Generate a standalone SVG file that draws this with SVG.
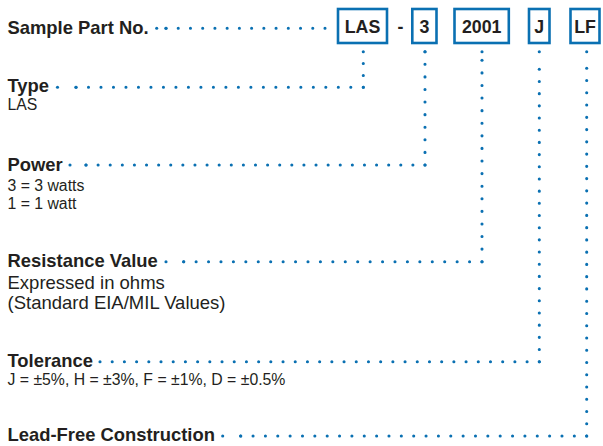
<svg xmlns="http://www.w3.org/2000/svg" width="603" height="446" viewBox="0 0 603 446">
<style>
  .bg{fill:#ffffff}
  .h{font-family:"Liberation Sans",Arial,sans-serif;font-weight:bold;font-size:18.4px;fill:#231f20}
  .s{font-family:"Liberation Sans",Arial,sans-serif;font-size:15.8px;fill:#231f20}
  .m{font-family:"Liberation Sans",Arial,sans-serif;font-size:18.5px;fill:#231f20}
  .bt{font-family:"Liberation Sans",Arial,sans-serif;font-weight:bold;font-size:17.8px;fill:#231f20;text-anchor:middle}
  .box{fill:#ffffff;stroke:#0a70b2;stroke-width:2.6}
  .dots{fill:none;stroke:#0a70b2;stroke-width:3.1;stroke-linecap:round;stroke-dasharray:0 1}
  .dot{fill:#0a70b2}
</style>
<rect class="bg" x="0" y="0" width="603" height="446"/>

<g id="connectors">
  <!-- Sample Part No. -->
  <path class="dots" d="M325 28.3 H166" pathLength="13"/>
  <circle class="dot" cx="166" cy="28.3" r="1.55"/>
  <circle class="dot" cx="156.7" cy="28.3" r="1.55"/>
  <!-- Type -->
  <path class="dots" d="M363.3 87.3 H76" pathLength="23"/>
  <circle class="dot" cx="76" cy="87.3" r="1.55"/>
  <circle class="dot" cx="57.5" cy="87.3" r="1.55"/>
  <path class="dots" d="M363.3 87.3 V51.7" pathLength="3"/>
  <circle class="dot" cx="363.3" cy="51.7" r="1.55"/>
  <!-- Power -->
  <path class="dots" d="M425 165 H86" pathLength="28"/>
  <circle class="dot" cx="86" cy="165" r="1.55"/>
  <circle class="dot" cx="70" cy="165" r="1.55"/>
  <path class="dots" d="M425 165 V51.7" pathLength="9"/>
  <circle class="dot" cx="425" cy="51.7" r="1.55"/>
  <!-- Resistance -->
  <path class="dots" d="M482 261.7 H183.7" pathLength="24"/>
  <circle class="dot" cx="183.7" cy="261.7" r="1.55"/>
  <circle class="dot" cx="166" cy="261.7" r="1.55"/>
  <path class="dots" d="M482 261.7 V60.3" pathLength="16"/>
  <circle class="dot" cx="482" cy="60.3" r="1.55"/>
  <circle class="dot" cx="482" cy="51.7" r="1.55"/>
  <!-- Tolerance -->
  <path class="dots" d="M539.3 361.7 H100" pathLength="36"/>
  <circle class="dot" cx="100" cy="361.7" r="1.55"/>
  <path class="dots" d="M539.3 361.7 V69.3" pathLength="24"/>
  <circle class="dot" cx="539.3" cy="69.3" r="1.55"/>
  <circle class="dot" cx="539.3" cy="51.7" r="1.55"/>
  <!-- Lead-Free -->
  <path class="dots" d="M586.7 436 H240.7" pathLength="28"/>
  <circle class="dot" cx="240.7" cy="436" r="1.55"/>
  <circle class="dot" cx="222.7" cy="436" r="1.55"/>
  <path class="dots" d="M586.7 436 V68.3" pathLength="30"/>
  <circle class="dot" cx="586.7" cy="68.3" r="1.55"/>
  <circle class="dot" cx="586.7" cy="51.7" r="1.55"/>
</g>

<g id="title"><text class="h" x="7.5" y="33.5">Sample Part No.</text></g>

<g id="box-las"><rect class="box" x="338" y="9" width="49" height="34"/><text class="bt" x="362.5" y="33">LAS</text></g>
<g id="dash"><text class="bt" x="400.5" y="33">-</text></g>
<g id="box-3"><rect class="box" x="412.3" y="9" width="24.2" height="34"/><text class="bt" x="424.4" y="33">3</text></g>
<g id="box-2001"><rect class="box" x="454.5" y="9" width="54.3" height="34"/><text class="bt" x="481.7" y="33">2001</text></g>
<g id="box-j"><rect class="box" x="529" y="9" width="20.5" height="34"/><text class="bt" x="539.3" y="33">J</text></g>
<g id="box-lf"><rect class="box" x="570.5" y="9" width="29" height="34"/><text class="bt" x="585" y="33">LF</text></g>

<g id="type">
  <text class="h" x="7.5" y="92">Type</text>
  <text class="s" x="7.5" y="110">LAS</text>
</g>
<g id="power">
  <text class="h" x="7.5" y="170.5">Power</text>
  <text class="s" x="7.5" y="190.5">3 = 3 watts</text>
  <text class="s" x="7.5" y="208.5">1 = 1 watt</text>
</g>
<g id="resistance">
  <text class="h" x="7.5" y="266.5">Resistance Value</text>
  <text class="m" x="7.5" y="289">Expressed in ohms</text>
  <text class="m" x="7.5" y="309">(Standard EIA/MIL Values)</text>
</g>
<g id="tolerance">
  <text class="h" x="7.5" y="366.5">Tolerance</text>
  <text class="s" x="7.5" y="385">J = ±5%, H = ±3%, F = ±1%, D = ±0.5%</text>
</g>
<g id="leadfree">
  <text class="h" x="7.5" y="441">Lead-Free Construction</text>
</g>
</svg>
